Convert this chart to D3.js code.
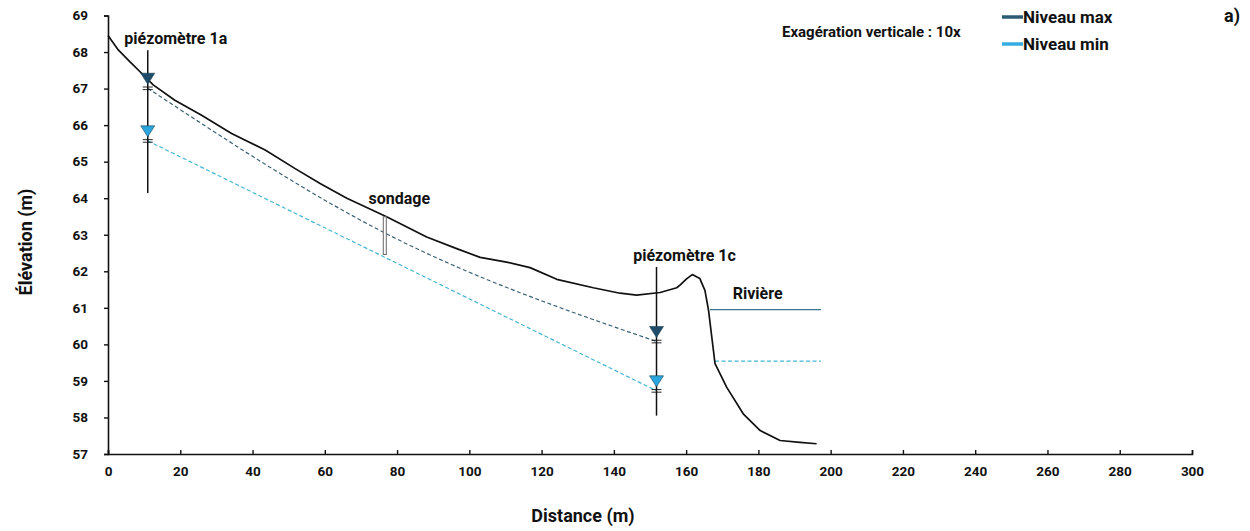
<!DOCTYPE html>
<html>
<head>
<meta charset="utf-8">
<script src="https://cdn.jsdelivr.net/npm/d3@7"></script>
<style>
  body { margin: 0; background: #fff; }
  svg text { font-family: Roboto, "Noto Sans", sans-serif; font-weight: bold; fill: #111; }
</style>
</head>
<body>
<div id="chart"></div>
<script>
// ---- data ----
const profileDist = [0, 2.9, 6.1, 9.3, 12.5, 18.5, 25.9, 34.2, 43.5, 51.8, 58.7, 66.1, 77.1, 88.2, 96.5, 103, 110.3, 116.8, 124.2, 134.3, 141.7, 146.3, 152.8, 157.4, 158.3, 160.2, 161.7, 163.8, 165.2, 166.2, 168, 171.2, 175.8, 180.5, 186, 191.5, 196.1];
const profileElev = [68.45, 68.05, 67.73, 67.42, 67.1, 66.68, 66.27, 65.77, 65.32, 64.81, 64.4, 64.0, 63.49, 62.94, 62.62, 62.38, 62.25, 62.1, 61.78, 61.55, 61.4, 61.35, 61.42, 61.55, 61.62, 61.8, 61.91, 61.8, 61.48, 60.93, 59.47, 58.83, 58.1, 57.64, 57.37, 57.32, 57.28];

const wellNames = ["piézomètre 1a", "piézomètre 1c"];
const wellDist = [11, 151.8];
const wellTop = [68.05, 62.12];
const wellBottom = [64.14, 58.05];
const wellMax = [67.01, 60.08];
const wellMin = [65.57, 58.73];

// max water table passes through the sondage
const maxLineDist = [11, 76.6, 151.8];
const maxLineElev = [67.01, 63.05, 60.08];

const sondageDist = 76.6;
const sondageTop = 63.49;
const sondageBottom = 62.46;

const riverStart = [166.6, 168];
const riverEnd = 197.3;
const riverLevels = [60.95, 59.54];

const xTicks = d3.range(0, 301, 20);
const yTicks = d3.range(57, 70, 1);

const legendLabels = ["Niveau max", "Niveau min"];

// ---- layout ----
const width = 1250, height = 531;
const margin = { top: 15.5, right: 58, bottom: 77, left: 108 };
const chartWidth = width - margin.left - margin.right;
const chartHeight = height - margin.top - margin.bottom;

const colMax = "#2b5a75", colMaxDash = "#3d6275", colMaxTri = "#1f4d69";
const colMin = "#35ade0", colMinDash = "#45b6d2", colMinTri = "#2aa6de";

const svg = d3.select("#chart").append("svg")
  .attr("width", width)
  .attr("height", height);

const g = svg.append("g")
  .attr("transform", `translate(${margin.left},${margin.top})`);

const x = d3.scaleLinear().domain([0, 300]).range([0, chartWidth]);
const y = d3.scaleLinear().domain([57, 69]).range([chartHeight, 0]);

// axes
const xAxisG = g.append("g")
  .attr("transform", `translate(0,${chartHeight})`)
  .call(d3.axisBottom(x).tickValues(xTicks).tickSize(-4).tickPadding(10));
xAxisG.selectAll("text").attr("font-size", 13.5).attr("dy", "0.9em").attr("fill", "#111");

const yAxisG = g.append("g")
  .call(d3.axisLeft(y).tickValues(yTicks).tickSize(4).tickPadding(16));
yAxisG.selectAll("text").attr("font-size", 13.5).attr("fill", "#111");

g.selectAll(".domain").attr("stroke", "#111").attr("stroke-width", 1.6);
g.selectAll(".tick line").attr("stroke", "#111").attr("stroke-width", 1.4);

// axis titles
svg.append("text")
  .attr("x", 583).attr("y", 522)
  .attr("text-anchor", "middle")
  .attr("font-size", 18)
  .text("Distance (m)");

svg.append("text")
  .attr("transform", "translate(32,242) rotate(-90)")
  .attr("text-anchor", "middle")
  .attr("font-size", 18)
  .text("Élévation (m)");

// water table dashed lines
g.append("path")
  .datum(maxLineDist.map((d, i) => [d, maxLineElev[i]]))
  .attr("d", d3.line().x(d => x(d[0])).y(d => y(d[1])).curve(d3.curveMonotoneX))
  .attr("fill", "none")
  .attr("stroke", colMaxDash)
  .attr("stroke-width", 1.2)
  .attr("stroke-dasharray", "4,2.5");

g.append("path")
  .datum(wellDist.map((d, i) => [d, wellMin[i]]))
  .attr("d", d3.line().x(d => x(d[0])).y(d => y(d[1])))
  .attr("fill", "none")
  .attr("stroke", colMinDash)
  .attr("stroke-width", 1.2)
  .attr("stroke-dasharray", "4,2.5");

// river levels
g.append("line")
  .attr("x1", x(riverStart[0])).attr("x2", x(riverEnd))
  .attr("y1", y(riverLevels[0])).attr("y2", y(riverLevels[0]))
  .attr("stroke", "#3a7590").attr("stroke-width", 1.2);

g.append("line")
  .attr("x1", x(riverStart[1])).attr("x2", x(riverEnd))
  .attr("y1", y(riverLevels[1])).attr("y2", y(riverLevels[1]))
  .attr("stroke", colMinDash).attr("stroke-width", 1.2)
  .attr("stroke-dasharray", "4,2.5");

g.append("text")
  .attr("x", x(179.8)).attr("y", y(61.4))
  .attr("dy", "0.36em")
  .attr("text-anchor", "middle")
  .attr("font-size", 16)
  .text("Rivière");

// terrain profile
g.append("path")
  .datum(profileDist.map((d, i) => [d, profileElev[i]]))
  .attr("d", d3.line().x(d => x(d[0])).y(d => y(d[1])))
  .attr("fill", "none")
  .attr("stroke", "#111")
  .attr("stroke-width", 1.7)
  .attr("stroke-linejoin", "round");

// sondage
g.append("rect")
  .attr("x", x(sondageDist) - 1.5)
  .attr("y", y(sondageTop))
  .attr("width", 3)
  .attr("height", y(sondageBottom) - y(sondageTop))
  .attr("fill", "#fff")
  .attr("stroke", "#666")
  .attr("stroke-width", 1);

g.append("text")
  .attr("x", x(sondageDist) + 14.5).attr("y", y(sondageTop) - 13)
  .attr("text-anchor", "middle")
  .attr("font-size", 16)
  .text("sondage");

// piezometers
wellNames.forEach((name, i) => {
  const px = x(wellDist[i]);
  g.append("line")
    .attr("x1", px).attr("x2", px)
    .attr("y1", y(wellTop[i])).attr("y2", y(wellBottom[i]))
    .attr("stroke", "#111").attr("stroke-width", 1.5);

  [[wellMax[i], colMaxTri], [wellMin[i], colMinTri]].forEach(([lv, col]) => {
    const py = y(lv);
    [-1.2, 1.4].forEach(off => {
      g.append("line")
        .attr("x1", px - 5).attr("x2", px + 5)
        .attr("y1", py + off).attr("y2", py + off)
        .attr("stroke", "#111").attr("stroke-width", 0.9);
    });
    g.append("path")
      .attr("d", `M${px - 7},${py - 15} L${px + 7},${py - 15} L${px},${py - 4} Z`)
      .attr("fill", col)
      .attr("stroke", "#1a3f55")
      .attr("stroke-width", 0.6);
  });

  g.append("text")
    .attr("x", px + 28).attr("y", y(wellTop[i]) - 6)
    .attr("text-anchor", "middle")
    .attr("font-size", 16)
    .text(name);
});

// legend
const legend = svg.append("g").attr("transform", "translate(1002,17)");
legendLabels.forEach((lab, i) => {
  legend.append("line")
    .attr("x1", 0).attr("x2", 21)
    .attr("y1", i * 27).attr("y2", i * 27)
    .attr("stroke", i === 0 ? colMax : colMin)
    .attr("stroke-width", 3.5);
  legend.append("text")
    .attr("x", 21).attr("y", i * 27)
    .attr("dy", "0.36em")
    .attr("font-size", 17)
    .text(lab);
});

svg.append("text")
  .attr("x", 782).attr("y", 32)
  .attr("dy", "0.36em")
  .attr("font-size", 15)
  .text("Exagération verticale : 10x");

svg.append("text")
  .attr("x", 1224).attr("y", 16)
  .attr("dy", "0.36em")
  .attr("font-size", 18)
  .text("a)");
</script>
</body>
</html>
